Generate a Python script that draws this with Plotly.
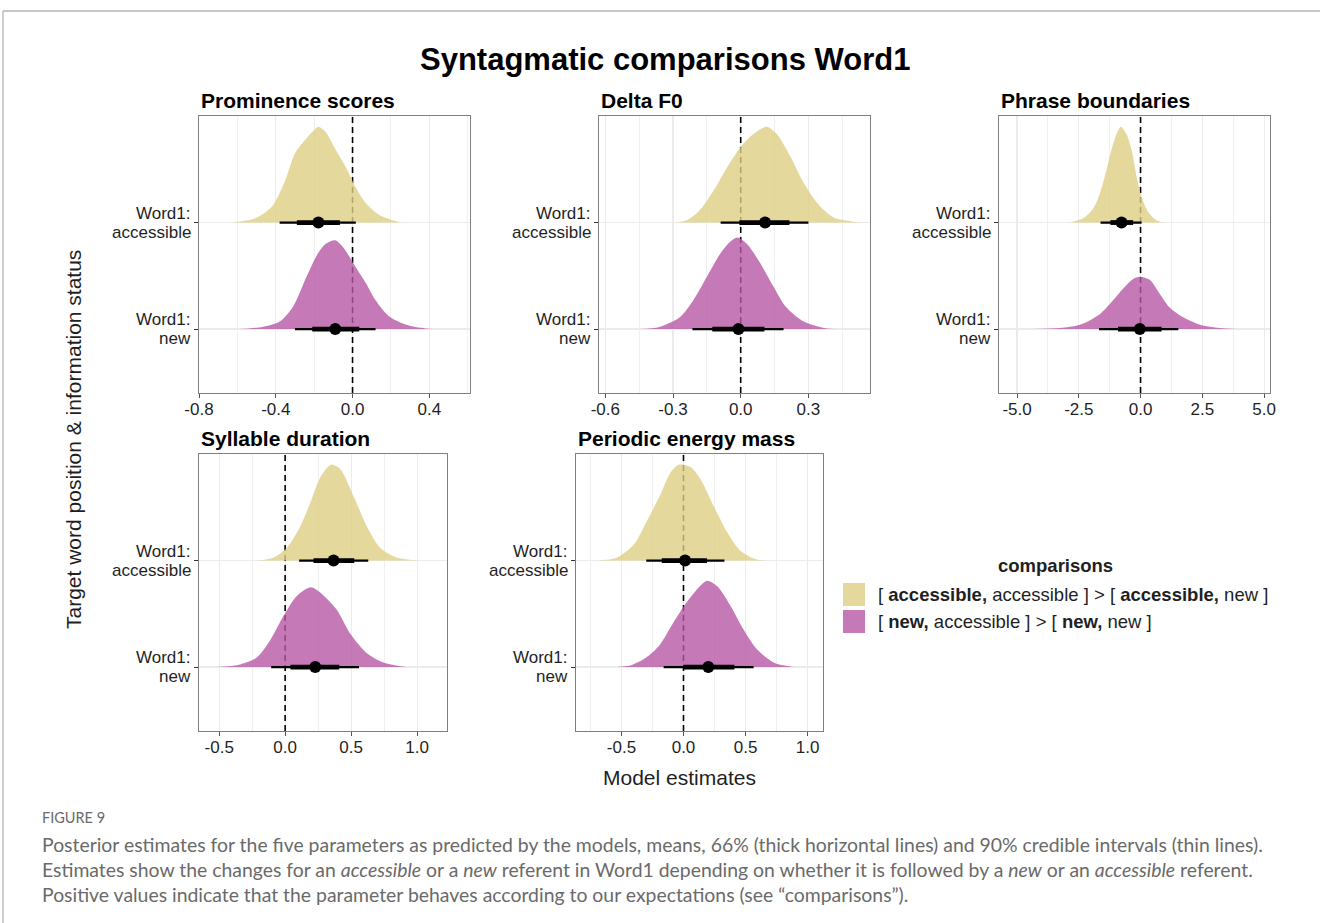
import plotly.graph_objects as go

W, H = 1320, 923

# ---------------- data ----------------
panel_titles = ["Prominence scores", "Delta F0", "Phrase boundaries",
                "Syllable duration", "Periodic energy mass"]
row_values = [1, 2]
row_label_top = ["Word1:", "Word1:"]
row_label_bottom = ["new", "accessible"]
comparison_labels = ["[ <b>accessible,</b> accessible ] > [ <b>accessible,</b> new ]",
                     "[ <b>new,</b> accessible ] > [ <b>new,</b> new ]"]

tick_values = [[-0.8, -0.4, 0.0, 0.4],
               [-0.6, -0.3, 0.0, 0.3],
               [-5.0, -2.5, 0.0, 2.5, 5.0],
               [-0.5, 0.0, 0.5, 1.0],
               [-0.5, 0.0, 0.5, 1.0]]
tick_labels = [["-0.8", "-0.4", "0.0", "0.4"],
               ["-0.6", "-0.3", "0.0", "0.3"],
               ["-5.0", "-2.5", "0.0", "2.5", "5.0"],
               ["-0.5", "0.0", "0.5", "1.0"],
               ["-0.5", "0.0", "0.5", "1.0"]]
minor_ticks = [[-0.6, -0.2, 0.2, 0.6],
               [-0.45, -0.15, 0.15, 0.45],
               [-3.75, -1.25, 1.25, 3.75],
               [-0.25, 0.25, 0.75],
               [-0.75, -0.25, 0.25, 0.75]]
x_ranges = [[-0.8, 0.612], [-0.628, 0.573], [-5.73, 5.24], [-0.653, 1.227], [-0.866, 1.124]]

# posterior density outlines (x, relative height)
acc_dens_x = [
    [-0.63, -0.506, -0.42, -0.35, -0.30, -0.25, -0.21, -0.178, -0.14, -0.087, -0.035, 0.017, 0.07, 0.14, 0.24, 0.30],
    [-0.33, -0.24, -0.18, -0.12, -0.06, 0.0, 0.056, 0.115, 0.16, 0.22, 0.28, 0.34, 0.41, 0.51, 0.55],
    [-2.86, -2.32, -1.92, -1.65, -1.38, -1.18, -0.97, -0.80, -0.57, -0.36, -0.16, 0.04, 0.31, 0.65, 1.05],
    [-0.215, -0.09, 0.013, 0.114, 0.19, 0.266, 0.347, 0.417, 0.52, 0.62, 0.72, 0.85, 1.02],
    [-0.70, -0.54, -0.40, -0.30, -0.19, -0.108, -0.04, 0.054, 0.134, 0.24, 0.35, 0.46, 0.59, 0.70],
]
acc_dens_h = [
    [0, 0.04, 0.15, 0.40, 0.65, 0.77, 0.85, 0.90, 0.85, 0.68, 0.52, 0.33, 0.18, 0.07, 0.006, 0],
    [0, 0.02, 0.12, 0.30, 0.52, 0.71, 0.83, 0.90, 0.83, 0.62, 0.37, 0.18, 0.05, 0.006, 0],
    [0, 0.04, 0.13, 0.27, 0.49, 0.68, 0.83, 0.90, 0.83, 0.68, 0.43, 0.24, 0.10, 0.02, 0],
    [0, 0.025, 0.12, 0.32, 0.54, 0.78, 0.90, 0.86, 0.60, 0.32, 0.12, 0.025, 0],
    [0, 0.025, 0.15, 0.36, 0.61, 0.82, 0.90, 0.88, 0.77, 0.52, 0.27, 0.09, 0.01, 0],
]
new_dens_x = [
    [-0.59, -0.47, -0.38, -0.31, -0.24, -0.19, -0.14, -0.09, -0.05, 0.017, 0.07, 0.12, 0.19, 0.28, 0.38, 0.49],
    [-0.45, -0.36, -0.27, -0.21, -0.15, -0.09, -0.047, -0.015, 0.027, 0.086, 0.145, 0.20, 0.28, 0.37, 0.44],
    [-4.35, -3.27, -2.46, -1.65, -1.11, -0.70, -0.30, -0.03, 0.38, 0.78, 1.19, 1.73, 2.4, 3.2, 3.9],
    [-0.52, -0.34, -0.215, -0.11, -0.013, 0.09, 0.195, 0.266, 0.39, 0.49, 0.62, 0.75, 0.92],
    [-0.59, -0.43, -0.30, -0.19, -0.08, 0.027, 0.134, 0.19, 0.27, 0.376, 0.48, 0.59, 0.73, 0.89],
]
new_dens_h = [
    [0, 0.02, 0.07, 0.21, 0.49, 0.68, 0.80, 0.834, 0.77, 0.58, 0.43, 0.27, 0.12, 0.04, 0.006, 0],
    [0, 0.02, 0.11, 0.27, 0.49, 0.71, 0.82, 0.86, 0.80, 0.62, 0.40, 0.21, 0.07, 0.01, 0],
    [0, 0.01, 0.04, 0.14, 0.27, 0.38, 0.47, 0.49, 0.46, 0.33, 0.20, 0.11, 0.04, 0.01, 0],
    [0, 0.025, 0.09, 0.26, 0.48, 0.67, 0.75, 0.70, 0.54, 0.32, 0.13, 0.04, 0],
    [0, 0.015, 0.09, 0.21, 0.42, 0.61, 0.76, 0.81, 0.76, 0.58, 0.36, 0.17, 0.04, 0],
]

# means and credible intervals
acc_mean = [-0.178, 0.108, -0.77, 0.367, 0.013]
acc_q66_lo = [-0.29, -0.006, -1.22, 0.215, -0.175]
acc_q66_hi = [-0.066, 0.216, -0.30, 0.524, 0.19]
acc_q90_lo = [-0.38, -0.089, -1.62, 0.106, -0.30]
acc_q90_hi = [0.017, 0.30, 0.04, 0.63, 0.33]
new_mean = [-0.09, -0.01, -0.03, 0.228, 0.20]
new_q66_lo = [-0.21, -0.126, -0.91, 0.04, 0.0]
new_q66_hi = [0.035, 0.105, 0.85, 0.41, 0.41]
new_q90_lo = [-0.30, -0.214, -1.68, -0.106, -0.16]
new_q90_hi = [0.12, 0.19, 1.53, 0.56, 0.565]

# ---------------- styling ----------------
FONT = "Liberation Sans, Arial, sans-serif"
ACC_FILL = "rgba(222,206,131,0.8)"
NEW_FILL = "rgba(182,89,165,0.8)"
ACC_SWATCH = "#E5D89C"
NEW_SWATCH = "#C57AB7"
GRID = "#EBEBEB"
BORDER = "#7F7F7F"
TXT = "#1F1F1F"
Y_RANGE = [0.4, 3.0]

# panel boxes in pixels: left, right, top, bottom
panels = [(199, 470, 116, 393), (599, 870, 116, 393), (999, 1270, 116, 393),
          (199, 447, 454, 731), (576, 823, 454, 731)]


def px(x):
    return x / W


def py(y):
    return 1 - y / H


fig = go.Figure()
layout = dict(template="none", width=W, height=H,
              margin=dict(l=0, r=0, t=0, b=0, pad=0, autoexpand=False),
              paper_bgcolor="white", plot_bgcolor="white", showlegend=False,
              font=dict(family=FONT, color=TXT))
annotations = []

for i in range(5):
    sfx = "" if i == 0 else str(i + 1)
    xa, ya = "x" + sfx, "y" + sfx
    l, r, t, b = panels[i]
    layout["xaxis" + sfx] = dict(
        domain=[px(l), px(r)], anchor=ya, range=x_ranges[i], automargin=False,
        tickvals=tick_values[i], ticktext=tick_labels[i],
        tickfont=dict(size=17, color=TXT, family=FONT), ticklabelstandoff=-3,
        ticks="outside", ticklen=4, tickcolor="#555", tickwidth=1,
        showgrid=True, gridcolor=GRID, gridwidth=1.1, zeroline=False,
        minor=dict(tickvals=minor_ticks[i], showgrid=True, gridcolor=GRID, gridwidth=0.8, ticks=""),
        showline=True, linecolor=BORDER, linewidth=1, mirror=True, fixedrange=True)
    layout["yaxis" + sfx] = dict(
        domain=[py(b), py(t)], anchor=xa, range=Y_RANGE, automargin=False,
        tickvals=row_values, showticklabels=False,
        ticks="outside", ticklen=4, tickcolor="#333", tickwidth=1,
        showgrid=True, gridcolor=GRID, gridwidth=1.5, zeroline=False,
        showline=True, linecolor=BORDER, linewidth=1, mirror=True, fixedrange=True)

    # two-line category labels at each row
    for rv, top_txt, bot_txt in zip(row_values, row_label_top, row_label_bottom):
        for txt, shift in ((top_txt, 9.5), (bot_txt, -9.5)):
            annotations.append(dict(text=txt, x=px(l - 6.5), y=rv, xref="paper", yref=ya,
                                    yshift=shift, xanchor="right", yanchor="middle", showarrow=False,
                                    font=dict(size=17, color=TXT, family=FONT)))

    # dashed reference line at zero
    fig.add_trace(go.Scatter(x=[0, 0], y=Y_RANGE, mode="lines", xaxis=xa, yaxis=ya,
                             line=dict(color="black", width=1.6, dash="6px,4px"),
                             hoverinfo="skip"))

    for base, dx, dh, fill in ((2, acc_dens_x[i], acc_dens_h[i], ACC_FILL),
                               (1, new_dens_x[i], new_dens_h[i], NEW_FILL)):
        fig.add_trace(go.Scatter(x=dx, y=[base] * len(dx), mode="lines", xaxis=xa, yaxis=ya,
                                 line=dict(width=0, color="rgba(0,0,0,0)"), hoverinfo="skip"))
        fig.add_trace(go.Scatter(x=dx, y=[base + h for h in dh], mode="lines", xaxis=xa, yaxis=ya,
                                 fill="tonexty", fillcolor=fill,
                                 line=dict(width=0, color="rgba(0,0,0,0)", shape="spline", smoothing=0.8),
                                 hoverinfo="skip"))

    for base, m, lo66, hi66, lo90, hi90 in (
            (2, acc_mean[i], acc_q66_lo[i], acc_q66_hi[i], acc_q90_lo[i], acc_q90_hi[i]),
            (1, new_mean[i], new_q66_lo[i], new_q66_hi[i], new_q90_lo[i], new_q90_hi[i])):
        fig.add_trace(go.Scatter(x=[lo90, hi90], y=[base, base], mode="lines", xaxis=xa, yaxis=ya,
                                 line=dict(color="black", width=2.2), hoverinfo="skip"))
        fig.add_trace(go.Scatter(x=[lo66, hi66], y=[base, base], mode="lines", xaxis=xa, yaxis=ya,
                                 line=dict(color="black", width=4.8), hoverinfo="skip"))
        fig.add_trace(go.Scatter(x=[m], y=[base], mode="markers", xaxis=xa, yaxis=ya,
                                 marker=dict(color="black", size=12, line=dict(width=0)),
                                 hoverinfo="skip"))

# main title
annotations.append(dict(text="<b>Syntagmatic comparisons Word1</b>", x=px(665), y=py(60),
                        xref="paper", yref="paper", xanchor="center", yanchor="middle",
                        showarrow=False, font=dict(size=31, color="black", family=FONT)))
# panel titles
title_pos = [(199, 100), (599, 100), (999, 100), (199, 438), (576, 438)]
for (tx, ty), name in zip(title_pos, panel_titles):
    annotations.append(dict(text="<b>" + name + "</b>", x=px(tx), y=py(ty), xref="paper", yref="paper",
                            xanchor="left", yanchor="middle", showarrow=False,
                            font=dict(size=21, color="black", family=FONT)))
# axis titles
annotations.append(dict(text="Model estimates", x=px(679), y=py(777), xref="paper", yref="paper",
                        xanchor="center", yanchor="middle", showarrow=False,
                        font=dict(size=21, color=TXT, family=FONT)))
annotations.append(dict(text="Target word position &amp; information status", x=px(73), y=py(440),
                        xref="paper", yref="paper", xanchor="center", yanchor="middle",
                        textangle=-90, showarrow=False, font=dict(size=21, color=TXT, family=FONT)))
# legend
annotations.append(dict(text="<b>comparisons</b>", x=px(1055), y=py(565), xref="paper", yref="paper",
                        xanchor="center", yanchor="middle", showarrow=False,
                        font=dict(size=18.5, color=TXT, family=FONT)))
shapes = []
for k, (lab, col) in enumerate(zip(comparison_labels, [ACC_SWATCH, NEW_SWATCH])):
    top = 583 + k * 27
    shapes.append(dict(type="rect", xref="paper", yref="paper", x0=px(843), x1=px(865),
                       y0=py(top + 23), y1=py(top), fillcolor=col, line=dict(width=0)))
    annotations.append(dict(text=lab, x=px(876), y=py(top + 11.5), xref="paper", yref="paper",
                            xanchor="left", yanchor="middle", showarrow=False,
                            font=dict(size=18.5, color=TXT, family=FONT)))

# caption
CAP = "#6A6A6A"
CAP_FONT = "Lato, sans-serif"
annotations.append(dict(text="FIGURE 9", x=px(40), y=py(817), xref="paper", yref="paper",
                        xanchor="left", yanchor="middle", showarrow=False,
                        font=dict(size=14.5, color=CAP, family=CAP_FONT)))
caption_lines = [
    "Posterior estimates for the five parameters as predicted by the models, means, 66% (thick horizontal lines) and 90% credible intervals (thin lines).",
    "Estimates show the changes for an <i>accessible</i> or a <i>new</i> referent in Word1 depending on whether it is followed by a <i>new</i> or an <i>accessible</i> referent.",
    "Positive values indicate that the parameter behaves according to our expectations (see \u201ccomparisons\u201d).",
]
for j, line in enumerate(caption_lines):
    annotations.append(dict(text=line, x=px(40), y=py(844 + 25 * j), xref="paper", yref="paper",
                            xanchor="left", yanchor="middle", showarrow=False,
                            font=dict(size=19.4, color=CAP, family=CAP_FONT)))

# outer frame
shapes.append(dict(type="line", xref="paper", yref="paper", x0=px(3), x1=1, y0=py(11), y1=py(11),
                   line=dict(color="#B5B5B5", width=1.3)))
shapes.append(dict(type="line", xref="paper", yref="paper", x0=px(3), x1=px(3), y0=py(11), y1=0,
                   line=dict(color="#B5B5B5", width=1.3)))

layout["annotations"] = annotations
layout["shapes"] = shapes
fig.update_layout(**layout)

fig.write_html("out.html", config={"displayModeBar": False, "staticPlot": True},
               post_script="document.body.style.margin='0';document.body.style.overflow='hidden';")
